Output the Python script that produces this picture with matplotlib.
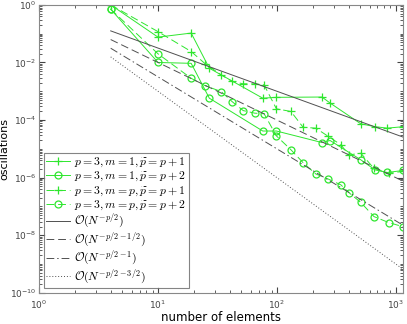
import numpy as np
import matplotlib.pyplot as plt
from matplotlib.ticker import LogLocator, NullFormatter

plt.rcParams['mathtext.fontset'] = 'cm'
plt.rcParams['font.family'] = 'DejaVu Sans'

# number of elements for the two refinement strategies
n_m1 = [4, 10, 19, 27, 76, 99, 239, 280, 507, 668, 847, 1146]
n_mp = [4, 10, 19, 25, 34, 42, 52, 65, 78, 99, 131, 166, 212, 271, 345, 403,
        507, 654, 873, 1146]

# oscillations (log10 values)
osc_m1_p1 = [0.0, -1.12, -0.98, -2.2, -3.24, -3.21, -3.2, -3.41, -4.13, -4.23, -4.28, -4.23]
osc_m1_p2 = [-0.15, -2.0, -2.03, -3.24, -4.38, -4.38, -4.78, -4.71, -5.38, -5.73, -5.82, -5.75]
osc_mp_p1 = [0.0, -0.93, -1.62, -2.05, -2.43, -2.66, -2.74, -2.74, -2.78, -3.61, -3.70,
             -4.25, -4.28, -4.57, -4.86, -5.21, -5.15, -5.68, -5.85, -5.78]
osc_mp_p2 = [-0.15, -1.70, -2.55, -2.81, -3.01, -3.36, -3.67, -3.76, -3.78, -4.55, -5.03,
             -5.48, -5.87, -6.05, -6.25, -6.52, -6.86, -7.35, -7.56, -7.70]

# reference rates O(N^-k)
rates = [1.5, 2.0, 2.5, 3.0]
rate_labels = [r'$\mathcal{O}(N^{-p/2})$', r'$\mathcal{O}(N^{-p/2-1/2})$',
               r'$\mathcal{O}(N^{-p/2-1})$', r'$\mathcal{O}(N^{-p/2-3/2})$']
rate_styles = ['-', (0, (8, 4)), (0, (8, 3, 1.5, 3)), (0, (1, 2))]

green = '#2ee62e'
gray = '#505050'

fig = plt.figure(figsize=(4.07, 3.24), dpi=100)
ax = fig.add_axes([0.096, 0.096, 0.894, 0.889])

ax.plot(n_m1, 10 ** np.array(osc_m1_p1), '-', marker='+', color=green, lw=0.7, ms=6, mew=0.9,
        label=r'$p=3, m=1, \widetilde{p}=p+1$')
ax.plot(n_m1, 10 ** np.array(osc_m1_p2), '-', marker='o', color=green, lw=0.7, ms=5, mew=0.9,
        mfc='none', label=r'$p=3, m=1, \widetilde{p}=p+2$')
ax.plot(n_mp, 10 ** np.array(osc_mp_p1), ls=(0, (8, 4)), marker='+', color=green, lw=0.7, ms=6,
        mew=0.9, label=r'$p=3, m=p, \widetilde{p}=p+1$')
ax.plot(n_mp, 10 ** np.array(osc_mp_p2), ls=(0, (8, 4)), marker='o', color=green, lw=0.7, ms=5,
        mew=0.9, mfc='none', label=r'$p=3, m=p, \widetilde{p}=p+2$')

n_ref = np.array(n_mp, dtype=float)
for k, lab, st in zip(rates, rate_labels, rate_styles):
    ax.plot(n_ref, n_ref ** (-k), ls=st, color=gray, lw=0.7, label=lab)

ax.set_xscale('log')
ax.set_yscale('log')
ax.set_xlim(1, 1146)
ax.set_ylim(1e-10, 1)
ax.set_yticks([1e-10, 1e-8, 1e-6, 1e-4, 1e-2, 1])
ax.set_xticks([1, 10, 100, 1000])
ax.xaxis.set_minor_locator(LogLocator(base=10, subs=np.arange(2, 10), numticks=20))
ax.yaxis.set_minor_locator(LogLocator(base=10, subs=np.arange(1, 10), numticks=30))
ax.yaxis.set_minor_formatter(NullFormatter())
ax.xaxis.set_minor_formatter(NullFormatter())
ax.tick_params(which='both', direction='in', top=True, right=True, colors='#444444',
               labelsize=6.5)
ax.tick_params(axis='y', pad=2)
ax.tick_params(axis='x', pad=4)
ax.tick_params(which='major', length=4)
ax.tick_params(which='minor', length=2)
for s in ax.spines.values():
    s.set_color('#888888')
    s.set_linewidth(0.8)

ax.set_xlabel('number of elements', fontsize=8.5, labelpad=0)
ax.set_ylabel('oscillations', fontsize=8)
ax.yaxis.set_label_coords(-0.082, 0.5)

leg = ax.legend(loc='lower left', fontsize=8.5, fancybox=False, edgecolor='#666666',
                borderaxespad=0.4, handlelength=2.0, labelspacing=0.0, borderpad=0.2,
                handletextpad=0.4, handleheight=0.5)
leg.get_frame().set_linewidth(0.8)

fig.savefig('out.png', dpi=100)
